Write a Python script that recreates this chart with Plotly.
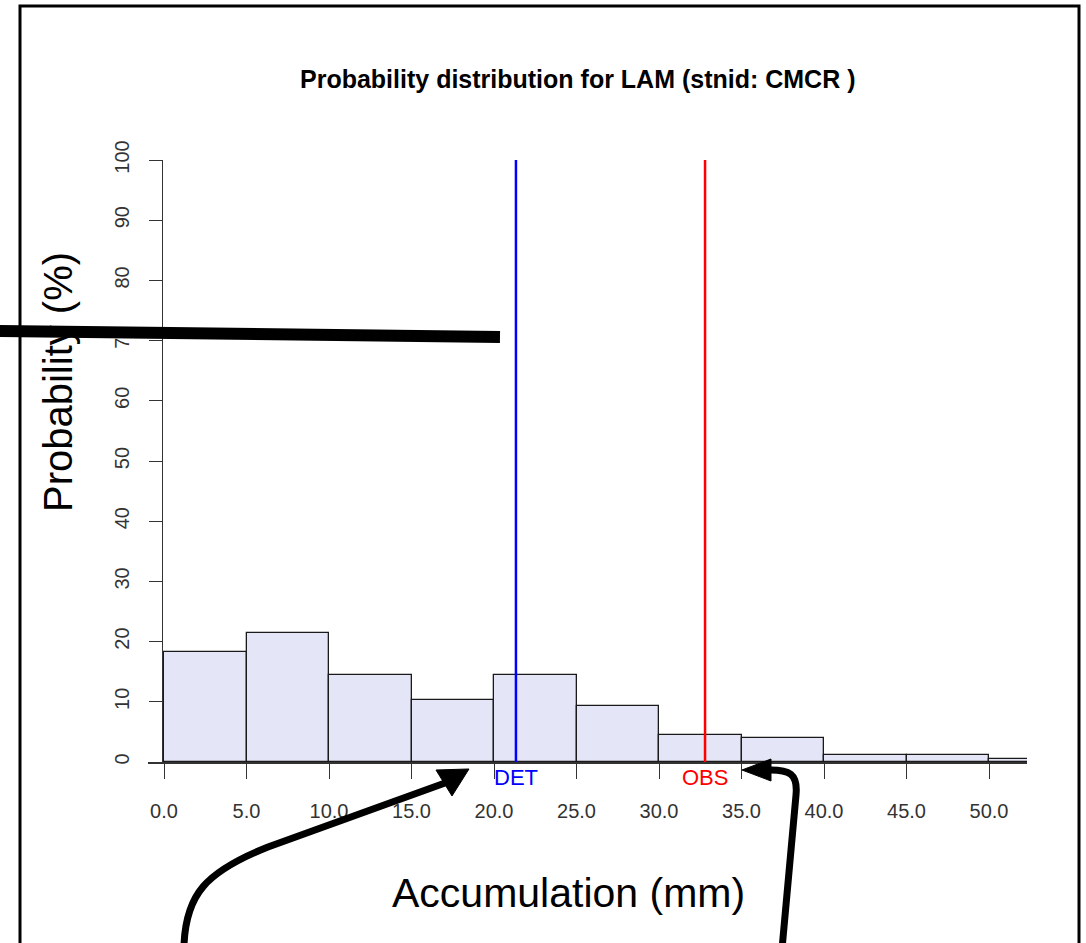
import plotly.graph_objects as go

# ---------------- data ----------------
bin_edges = [0, 5, 10, 15, 20, 25, 30, 35, 40, 45, 50, 55]
probabilities = [18.3, 21.5, 14.5, 10.3, 14.5, 9.3, 4.5, 4.0, 1.1, 1.1, 0.55]
det_value = 21.33
obs_value = 32.79
x_tick_values = [0, 5, 10, 15, 20, 25, 30, 35, 40, 45, 50]
x_tick_labels = ["0.0", "5.0", "10.0", "15.0", "20.0", "25.0", "30.0", "35.0", "40.0", "45.0", "50.0"]
y_tick_values = [0, 10, 20, 30, 40, 50, 60, 70, 80, 90, 100]
y_tick_labels = ["0", "10", "20", "30", "40", "50", "60", "70", "80", "90", "100"]
title_text = "Probability distribution for LAM (stnid: CMCR )"
x_title = "Accumulation (mm)"
y_title = "Probability (%)"

# ---------------- layout geometry ----------------
W, H = 1086, 943
X0_PX, PX_PER_UNIT = 164.0, 16.5
PLOT_LEFT, PLOT_RIGHT = 148.0, 1027.0
PLOT_TOP, PLOT_BOTTOM = 160.0, 762.0


def px(x):
    return x / W


def py(y):
    return 1 - y / H


def path(cmds):
    out = []
    for c in cmds:
        if isinstance(c, str):
            out.append(c)
        else:
            out.append(f"{px(c[0]):.5f},{py(c[1]):.5f}")
    return " ".join(out)


centers = [(a + b) / 2 for a, b in zip(bin_edges[:-1], bin_edges[1:])]
widths = [b - a for a, b in zip(bin_edges[:-1], bin_edges[1:])]

FONT = "Liberation Sans, Arial, sans-serif"

fig = go.Figure()
fig.add_trace(go.Bar(
    x=centers, y=probabilities, width=widths,
    marker=dict(color="#E4E5F6", line=dict(color="#1a1a1a", width=1.3)),
    hoverinfo="skip",
))
fig.add_trace(go.Scatter(x=[det_value, det_value], y=[0, 100], mode="lines",
                         line=dict(color="#0000FF", width=2.5), hoverinfo="skip"))
fig.add_trace(go.Scatter(x=[obs_value, obs_value], y=[0, 100], mode="lines",
                         line=dict(color="#FF0000", width=2.5), hoverinfo="skip"))

xmin = (PLOT_LEFT - X0_PX) / PX_PER_UNIT
xmax = (PLOT_RIGHT - X0_PX) / PX_PER_UNIT

fig.update_layout(
    width=W, height=H, autosize=False,
    margin=dict(l=0, r=0, t=0, b=0, pad=0, autoexpand=False),
    paper_bgcolor="white", plot_bgcolor="white",
    showlegend=False, bargap=0,
    xaxis=dict(
        domain=[px(PLOT_LEFT), px(PLOT_RIGHT)], range=[xmin, xmax],
        showgrid=False, zeroline=False, showline=True, linecolor="#333333", linewidth=2,
        ticks="outside", ticklen=15, tickwidth=1, tickcolor="#333333",
        tickmode="array", tickvals=x_tick_values, ticktext=x_tick_labels,
        tickfont=dict(family=FONT, size=20, color="#333333"),
        ticklabelstandoff=15, automargin=False,
    ),
    yaxis=dict(
        domain=[py(PLOT_BOTTOM), py(PLOT_TOP)], range=[0, 100],
        anchor="free", position=px(162),
        showgrid=False, zeroline=False, showline=True, linecolor="#333333", linewidth=1,
        ticks="outside", ticklen=13, tickwidth=1, tickcolor="#333333",
        tickmode="array", tickvals=y_tick_values, ticktext=y_tick_labels,
        tickangle=-90,
        tickfont=dict(family=FONT, size=20, color="#333333"),
        ticklabelstandoff=12, automargin=False,
    ),
)

annotations = [
    dict(text="<b>" + title_text + "</b>", x=px(578), y=py(79), xref="paper", yref="paper",
         xanchor="center", yanchor="middle", showarrow=False,
         font=dict(family=FONT, size=25, color="black")),
    dict(text=y_title, x=px(58), y=py(382), xref="paper", yref="paper",
         xanchor="center", yanchor="middle", textangle=-90, showarrow=False,
         font=dict(family=FONT, size=40, color="black")),
    dict(text=x_title, x=px(568), y=py(893), xref="paper", yref="paper",
         xanchor="center", yanchor="middle", showarrow=False,
         font=dict(family=FONT, size=41, color="black")),
    dict(text="DET", x=det_value, y=0, xref="x", yref="y", xanchor="center", yanchor="top",
         showarrow=False, yshift=-1, font=dict(family=FONT, size=22, color="#0000FF")),
    dict(text="OBS", x=obs_value, y=0, xref="x", yref="y", xanchor="center", yanchor="top",
         showarrow=False, yshift=-1, font=dict(family=FONT, size=22, color="#FF0000")),
]
fig.update_layout(annotations=annotations)

shapes = [
    # outer frame
    dict(type="rect", xref="paper", yref="paper", x0=px(20), x1=px(1079), y0=py(6), y1=py(990),
         line=dict(color="black", width=3), fillcolor="rgba(0,0,0,0)", layer="above"),
    # thick overlay stroke
    dict(type="line", xref="paper", yref="paper", x0=px(-5), y0=py(331), x1=px(500), y1=py(337),
         line=dict(color="black", width=12), layer="above"),
    # left curved arrow
    dict(type="path", xref="paper", yref="paper",
         path=path(["M", (184, 960), "L", (184, 945), "C", (186, 895), (205, 872), (268, 847),
                    "L", (445, 783)]),
         line=dict(color="black", width=7), layer="above"),
    dict(type="path", xref="paper", yref="paper",
         path=path(["M", (469, 769), "L", (436, 770), "L", (452, 796), "Z"]),
         line=dict(color="black", width=1), fillcolor="black", layer="above"),
    # right curved arrow
    dict(type="path", xref="paper", yref="paper",
         path=path(["M", (781, 960), "L", (796, 795), "C", (798, 774), (790, 769), (766, 770)]),
         line=dict(color="black", width=7), layer="above"),
    dict(type="path", xref="paper", yref="paper",
         path=path(["M", (742, 770), "L", (771, 759), "L", (771, 781), "Z"]),
         line=dict(color="black", width=1), fillcolor="black", layer="above"),
]
fig.update_layout(shapes=shapes)

fig.write_html("out.html")
